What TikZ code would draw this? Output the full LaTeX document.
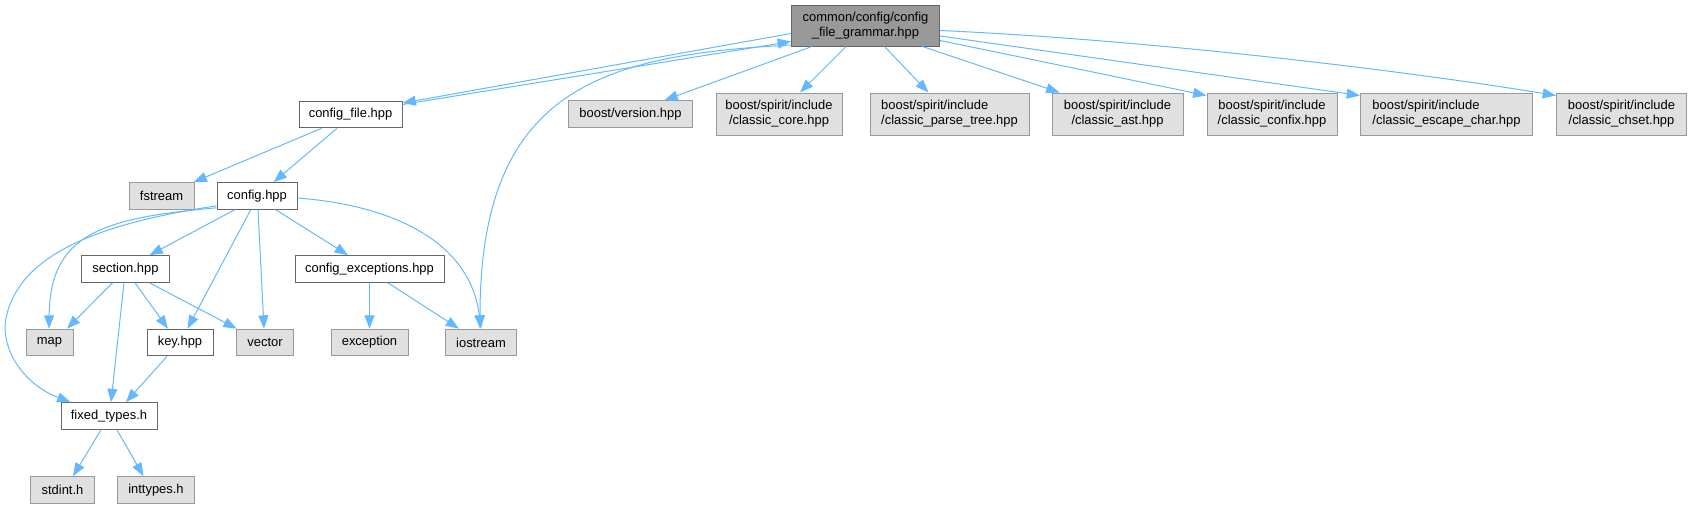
\documentclass[tikz,border=0pt]{standalone}
\usepackage{fontspec}
\setmainfont{Liberation Sans}
\usetikzlibrary{arrows.meta,calc}
\definecolor{edgec}{HTML}{63B8FF}
\definecolor{locb}{HTML}{666666}
\definecolor{sysb}{HTML}{999999}
\definecolor{sysf}{HTML}{E0E0E0}
\definecolor{rootf}{HTML}{999999}
\begin{document}
\begin{tikzpicture}[x=0.75pt,y=-0.75pt,
  every node/.style={font=\fontsize{9.7}{11.3}\selectfont, inner sep=0pt, align=center},
  loc/.style={draw=locb, fill=white, line width=0.75pt, minimum height=20pt},
  sys/.style={draw=sysb, fill=sysf, line width=0.75pt, minimum height=20pt},
  sys2/.style={sys, minimum height=31.5pt},
  rootbox/.style={draw=locb, fill=rootf, line width=0.75pt, minimum height=30.75pt},
  dep/.style={draw=edgec, line width=0.75pt, -{Triangle[length=10pt,width=7.5pt]}},
  wd/.style={minimum width=#1*0.75pt}
]
\useasboundingbox (0,0) rectangle (1692,508);

% nodes
\node[rootbox, wd=148] (root) at (865.5,25.5) {common/config/config\\\_file\_grammar.hpp};
\node[loc, wd=103] (cf) at (350.5,114.5) {config\_file.hpp};
\node[sys, wd=124] (ver) at (630.5,114) {boost/version.hpp};
\node[sys2, wd=126] (core) at (779,114) {boost/spirit/include\\/classic\_core.hpp};
\node[sys2, wd=159, align=left] (parse) at (949.5,114) {boost/spirit/include\\/classic\_parse\_tree.hpp};
\node[sys2, wd=131] (ast) at (1117.5,114) {boost/spirit/include\\/classic\_ast.hpp};
\node[sys2, wd=130] (confix) at (1272,114) {boost/spirit/include\\/classic\_confix.hpp};
\node[sys2, wd=172, align=left] (esc) at (1446.5,114) {boost/spirit/include\\/classic\_escape\_char.hpp};
\node[sys2, wd=130] (chset) at (1621.5,114) {boost/spirit/include\\/classic\_chset.hpp};

\node[sys, wd=65] (fstream) at (161.5,196) {fstream};
\node[loc, wd=80] (config) at (257,196) {config.hpp};

\node[loc, wd=87.5] (section) at (125.5,269) {section.hpp};
\node[loc, wd=149] (cexc) at (369.5,269) {config\_exceptions.hpp};

\node[sys, wd=47] (map) at (49.5,342.5) {map};
\node[loc, wd=66] (key) at (180,342.5) {key.hpp};
\node[sys, wd=57.5] (vector) at (265,342.5) {vector};
\node[sys, wd=77] (exc) at (369.5,342.5) {exception};
\node[sys, wd=71.5] (io) at (481,342.5) {iostream};

\node[loc, wd=96] (ft) at (109,416) {fixed\_types.h};
\node[sys, wd=64] (stdint) at (62.5,490) {stdint.h};
\node[sys, wd=77] (inttypes) at (156,490) {inttypes.h};

% edges from root
\draw[dep] ($(root.west)+(0,8)$) -- ($(cf.east)+(0,-11.5)$);
\draw[dep] ($(cf.east)+(0,-10)$) -- ($(root.west)+(0,16)$);
\draw[dep] ($(root.west)+(0,19.5)$) .. controls (600,55) and (480,90) .. ($(io.north)+(-1,0)$);
\draw[dep] ($(root.south)+(-53.5,0)$) -- ($(ver.north)+(34,0)$);
\draw[dep] ($(root.south)+(-19.5,0)$) -- ($(core.north)+(21,0)$);
\draw[dep] ($(root.south)+(19,0)$) -- ($(parse.north)+(-21,0)$);
\draw[dep] ($(root.south)+(57,0)$) -- ($(ast.north west)+(8,0)$);
\draw[dep] ($(root.east)+(0,15)$) -- ($(confix.north west)+(0,3)$);
\draw[dep] ($(root.east)+(0,10.5)$) -- ($(esc.north west)+(0,3)$);
\draw[dep] ($(root.east)+(0,5)$) .. controls (1150,40) and (1400,70) .. ($(chset.north west)+(0,3)$);

% config_file
\draw[dep] ($(cf.south)+(-29,0)$) -- ($(fstream.north east)+(-1,0)$);
\draw[dep] ($(cf.south)+(-13.5,0)$) -- ($(config.north)+(16.6,0)$);

% config.hpp
\draw[dep] ($(config.south)+(-22.4,0)$) -- ($(section.north)+(24,0)$);
\draw[dep] ($(config.south)+(-6.3,0)$) -- ($(key.north)+(7.5,0)$);
\draw[dep] ($(config.south)+(1,0)$) -- ($(vector.north)+(-1,0)$);
\draw[dep] ($(config.south)+(19,0)$) -- ($(cexc.north)+(-21.5,0)$);
\draw[dep] ($(config.east)+(0,2)$) .. controls (390,205) and (470,240) .. ($(io.north)+(0,0)$);
\draw[dep] ($(config.south west)+(0,-2)$) .. controls (100,218) and (50,235) .. ($(map.north)+(-0.5,0)$);
\draw[dep] ($(config.south west)+(0,-4)$) .. controls (110,222) and (20,250) .. (6,318) .. controls (0,350) and (25,385) .. ($(ft.north west)+(10,0)$);

% section.hpp
\draw[dep] ($(section.south)+(-13,0)$) -- ($(map.north)+(17.5,0)$);
\draw[dep] ($(section.south)+(9.5,0)$) -- ($(key.north)+(-12,0)$);
\draw[dep] ($(section.south)+(24,0)$) -- ($(vector.north west)+(1,0)$);
\draw[dep] ($(section.south)+(-1.5,0)$) -- ($(ft.north)+(2,0)$);

% key.hpp
\draw[dep] ($(key.south)+(-13,0)$) -- ($(ft.north)+(17,0)$);

% config_exceptions
\draw[dep] (cexc.south) -- (exc.north);
\draw[dep] ($(cexc.south)+(18.5,0)$) -- ($(io.north)+(-22,0)$);

% fixed_types
\draw[dep] ($(ft.south)+(-8,0)$) -- ($(stdint.north)+(10.5,0)$);
\draw[dep] ($(ft.south)+(8,0)$) -- ($(inttypes.north)+(-12.5,0)$);
\end{tikzpicture}
\end{document}
